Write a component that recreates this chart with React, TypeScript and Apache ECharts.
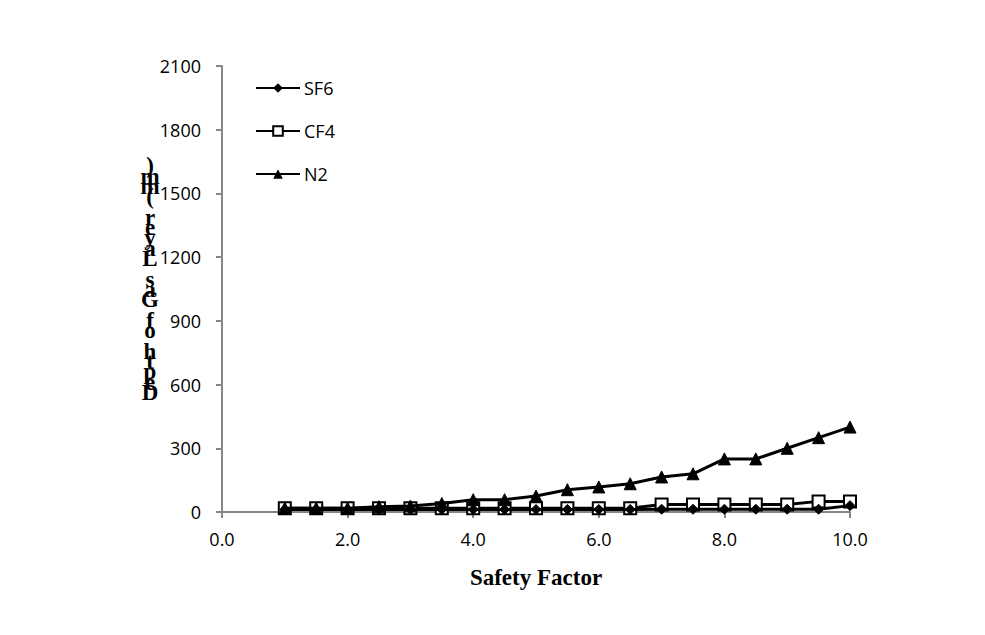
import React, { useEffect, useRef } from "react";
import * as echarts from "echarts";

const safetyFactors = [1.0, 1.5, 2.0, 2.5, 3.0, 3.5, 4.0, 4.5, 5.0, 5.5, 6.0, 6.5, 7.0, 7.5, 8.0, 8.5, 9.0, 9.5, 10.0];
const sf6Values = [12, 12, 12, 12, 12, 12, 12, 12, 12, 12, 12, 12, 13, 13, 13, 13, 13, 13, 30];
const cf4Values = [18, 18, 18, 18, 18, 18, 18, 18, 18, 18, 18, 18, 35, 35, 35, 35, 35, 50, 50];
const n2Values = [18, 18, 18, 25, 28, 40, 58, 58, 75, 105, 118, 133, 165, 180, 250, 250, 300, 350, 400];
const yTicks = { min: 0, max: 2100, interval: 300 };
const xTicks = { min: 0, max: 10, interval: 2 };
const xTitle = "Safety Factor";
const yTitle = "Depth of Gas Layer (mm)";

const pairs = (vals: number[]) => safetyFactors.map((x, i) => [x, vals[i]]);

export default function App() {
  const ref = useRef<HTMLDivElement>(null);
  useEffect(() => {
    if (!ref.current) return;
    const chart = echarts.init(ref.current, undefined, { renderer: "svg" });
    const axisGray = "#868686";
    const labelFont = { fontFamily: "Open Sans", fontSize: 18, color: "#000" };
    const stacked = yTitle.split("").reverse().join("\n");
    chart.setOption({
      animation: false,
      backgroundColor: "#fff",
      grid: { left: 222, right: 135, top: 66, bottom: 123 },
      legend: {
        orient: "vertical",
        left: 250,
        top: 74,
        itemWidth: 44,
        itemHeight: 12,
        itemGap: 25,
        textStyle: { ...labelFont, padding: [0, 0, 0, -1] },
        data: ["SF6", "CF4", "N2"],
      },
      xAxis: {
        type: "value",
        min: xTicks.min,
        max: xTicks.max,
        interval: xTicks.interval,
        splitLine: { show: false },
        axisLine: { lineStyle: { color: axisGray, width: 2 } },
        axisTick: { show: true, length: 6, lineStyle: { color: axisGray, width: 2 } },
        axisLabel: { ...labelFont, margin: 18, formatter: (v: number) => v.toFixed(1) },
        name: xTitle,
        nameLocation: "middle",
        nameGap: 54,
        nameTextStyle: { fontFamily: "Liberation Serif", fontWeight: "bold", fontSize: 23, color: "#000" },
      },
      yAxis: {
        type: "value",
        min: yTicks.min,
        max: yTicks.max,
        interval: yTicks.interval,
        splitLine: { show: false },
        axisLine: { show: true, lineStyle: { color: axisGray, width: 2 } },
        axisTick: { show: true, length: 6, lineStyle: { color: axisGray, width: 2 } },
        axisLabel: { ...labelFont, margin: 21, formatter: (v: number) => String(v) },
      },
      graphic: [
        {
          type: "text",
          x: 150,
          y: 279,
          style: {
            text: stacked,
            font: "bold 23px 'Liberation Serif'",
            fill: "#000",
            lineHeight: 10.3,
            align: "center",
            verticalAlign: "middle",
          },
        },
      ],
      series: [
        {
          name: "SF6",
          type: "line",
          data: pairs(sf6Values),
          symbol: "diamond",
          symbolSize: 10,
          lineStyle: { color: "#000", width: 3 },
          itemStyle: { color: "#000", borderColor: "#000" },
          z: 3,
        },
        {
          name: "CF4",
          type: "line",
          data: pairs(cf4Values),
          symbol: "rect",
          symbolSize: 12,
          lineStyle: { color: "#000", width: 3 },
          itemStyle: { color: "#fff", borderColor: "#000", borderWidth: 2 },
          z: 2,
        },
        {
          name: "N2",
          type: "line",
          data: pairs(n2Values),
          symbol: "triangle",
          symbolSize: 12,
          lineStyle: { color: "#000", width: 3 },
          itemStyle: { color: "#000", borderColor: "#000" },
          z: 4,
        },
      ],
    });
    return () => chart.dispose();
  }, []);
  return <div ref={ref} style={{ width: 985, height: 635, position: "absolute", left: 0, top: 0 }} />;
}
